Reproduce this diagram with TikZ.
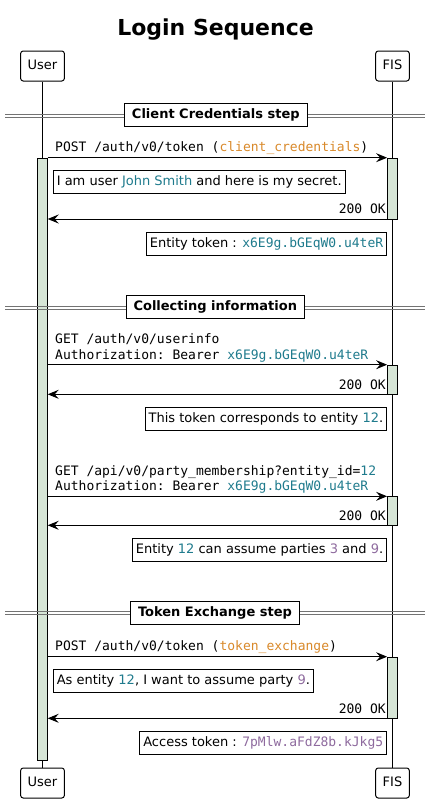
\documentclass[tikz,border=0pt]{standalone}
\usepackage{fontspec}
\setmainfont{DejaVu Sans}
\setmonofont{DejaVu Sans Mono}
\usetikzlibrary{arrows.meta}
\definecolor{orng}{HTML}{D9892A}
\definecolor{tealc}{HTML}{1F7B8D}
\definecolor{purp}{HTML}{8E6A9E}
\definecolor{actfill}{HTML}{D6E5D6}
\begin{document}
\begin{tikzpicture}[x=1pt,y=-1pt,
 part/.style={draw, rounded corners=2.5pt, minimum height=30pt, inner xsep=7pt, inner ysep=0pt, font=\fontsize{13}{15}\selectfont, line width=1pt, fill=white, text height=9.5pt, text depth=2.5pt},
 actbar/.style={draw, fill=actfill, minimum width=10.5pt, inner sep=0pt, line width=1pt},
 note/.style={draw, fill=white, line width=1pt, inner xsep=3.6pt, inner ysep=4.8pt, text height=10pt, text depth=3pt, font=\fontsize{13}{15}\selectfont},
 divbox/.style={draw, fill=white, line width=1pt, inner xsep=7.5pt, inner ysep=5pt, text height=10pt, text depth=3pt, font=\bfseries\fontsize{13}{15}\selectfont},
 msg/.style={-{Stealth[length=11pt,width=9pt,inset=4pt]}, line width=1pt},
 lbl/.style={inner sep=0pt, font=\ttfamily\fontsize{13}{15}\selectfont},
 divline/.style={draw=black!55, line width=1pt}
]
\useasboundingbox (0,0) rectangle (431,803);
\fill[white] (0,0) rectangle (431,803);

% title
\node[anchor=base, inner sep=0pt, font=\bfseries\fontsize{22}{26}\selectfont] (title) at (215.5,35) {Login Sequence};

% participants
\node[part] (uTop) at (42.5,66) {User};
\node[part] (fTop) at (392.5,66) {FIS};
\node[part] (uBot) at (42.5,783) {User};
\node[part] (fBot) at (392.5,783) {FIS};

% lifelines
\draw[line width=1pt] (uTop.south) -- (uBot.north);
\draw[line width=1pt] (fTop.south) -- (fBot.north);

% activation bars
\node[actbar, minimum height=602.3pt, anchor=north] (ua) at (42.4,157.7) {};
\node[actbar, minimum height=61.3pt, anchor=north] (fa1) at (392.4,157.7) {};
\node[actbar, minimum height=29.6pt, anchor=north] (fa2) at (392.4,364.7) {};
\node[actbar, minimum height=29pt, anchor=north] (fa3) at (392.4,496.3) {};
\node[actbar, minimum height=61.6pt, anchor=north] (fa4) at (392.4,656.7) {};

% arrow end points
\coordinate (u1) at (47.7,157.7); \coordinate (f1) at (387.1,157.7);
\coordinate (u2) at (47.7,219);   \coordinate (f2) at (387.1,219);
\coordinate (u3) at (47.7,364.7); \coordinate (f3) at (387.1,364.7);
\coordinate (u4) at (47.7,394.3); \coordinate (f4) at (387.1,394.3);
\coordinate (u5) at (47.7,496.3); \coordinate (f5) at (387.1,496.3);
\coordinate (u6) at (47.7,525.3); \coordinate (f6) at (387.1,525.3);
\coordinate (u7) at (47.7,656.7); \coordinate (f7) at (387.1,656.7);
\coordinate (u8) at (47.7,718.3); \coordinate (f8) at (387.1,718.3);

% dividers
\draw[divline] (5,114) -- (425,114);
\draw[divline] (5,117) -- (425,117);
\node[divbox] (d1) at (215.8,114.8) {Client Credentials step};
\draw[divline] (5,306.2) -- (425,306.2);
\draw[divline] (5,309.2) -- (425,309.2);
\node[divbox] (d2) at (215.3,307.2) {Collecting information};
\draw[divline] (5,611.8) -- (425,611.8);
\draw[divline] (5,614.8) -- (425,614.8);
\node[divbox] (d3) at (215,612.8) {Token Exchange step};

% Client credentials
\node[lbl, anchor=base west] (l1) at (55,151.7) {POST /auth/v0/token (\textcolor{orng}{client\_credentials})};
\draw[msg] (u1) -- (f1);
\node[note, anchor=west] (n1) at (52.7,182) {I am user \textcolor{tealc}{John Smith} and here is my secret.};
\node[lbl, anchor=base east] (r1) at (386,213.8) {200 OK};
\draw[msg] (f2) -- (u2);
\node[note, anchor=east] (n2) at (387.3,243.8) {Entity token : \texttt{\textcolor{tealc}{x6E9g.bGEqW0.u4teR}}};

% Collecting information
\node[lbl, anchor=base west] (l2a) at (55,343.5) {GET /auth/v0/userinfo};
\node[lbl, anchor=base west] (l2b) at (55,359) {Authorization: Bearer \textcolor{tealc}{x6E9g.bGEqW0.u4teR}};
\draw[msg] (u3) -- (f3);
\node[lbl, anchor=base east] (r2) at (386,389.2) {200 OK};
\draw[msg] (f4) -- (u4);
\node[note, anchor=east] (n3) at (387.3,419) {This token corresponds to entity \textcolor{tealc}{12}.};

\node[lbl, anchor=base west] (l3a) at (55,475) {GET /api/v0/party\_membership?entity\_id=\textcolor{tealc}{12}};
\node[lbl, anchor=base west] (l3b) at (55,490.5) {Authorization: Bearer \textcolor{tealc}{x6E9g.bGEqW0.u4teR}};
\draw[msg] (u5) -- (f5);
\node[lbl, anchor=base east] (r3) at (386,520.2) {200 OK};
\draw[msg] (f6) -- (u6);
\node[note, anchor=east] (n4) at (387.3,549.9) {Entity \textcolor{tealc}{12} can assume parties \textcolor{purp}{3} and \textcolor{purp}{9}.};

% Token exchange
\node[lbl, anchor=base west] (l4) at (55,650.7) {POST /auth/v0/token (\textcolor{orng}{token\_exchange})};
\draw[msg] (u7) -- (f7);
\node[note, anchor=west] (n5) at (52.7,680.7) {As entity \textcolor{tealc}{12}, I want to assume party \textcolor{purp}{9}.};
\node[lbl, anchor=base east] (r4) at (386,713.2) {200 OK};
\draw[msg] (f8) -- (u8);
\node[note, anchor=east] (n6) at (387.3,742.9) {Access token : \texttt{\textcolor{purp}{7pMlw.aFdZ8b.kJkg5}}};
\end{tikzpicture}
\end{document}
